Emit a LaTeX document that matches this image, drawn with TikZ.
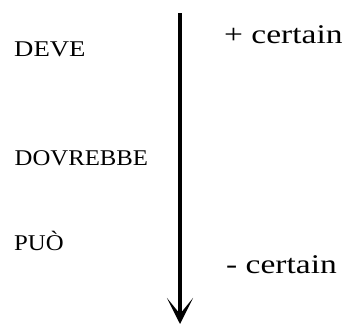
\documentclass[tikz,border=0pt]{standalone}
\usepackage{fontspec}
\setmainfont{Liberation Serif}
\usetikzlibrary{arrows.meta}
\tikzset{
  caplabel/.style={anchor=base west, inner sep=0pt, font=\fontsize{22.5}{26}\selectfont},
  endlabel/.style={anchor=base west, inner sep=0pt, font=\fontsize{27}{31}\selectfont},
  scalearrow/.style={line width=3.6pt, -{Stealth[length=26pt, width=26pt, inset=16pt]}}
}
\begin{document}
\begin{tikzpicture}[x=1pt,y=-1pt]
\useasboundingbox (0,0) rectangle (346,324);
\coordinate (top) at (180,13);
\coordinate (bot) at (180,324);
\draw[scalearrow] (top) -- (bot);
\node[caplabel] (deve) at (14,56.5) {\scalebox{1.19}[1]{DEVE}};
\node[caplabel] (dovrebbe) at (14.5,165) {\scalebox{1.1}[1]{DOVREBBE}};
\node[caplabel] (puo) at (14,250) {\scalebox{1.1}[1]{PUÒ}};
\node[endlabel] (plus) at (224,43.5) {\scalebox{1.24}[1]{+ certain}};
\node[endlabel] (minus) at (226,273) {\scalebox{1.24}[1]{- certain}};
\end{tikzpicture}
\end{document}
